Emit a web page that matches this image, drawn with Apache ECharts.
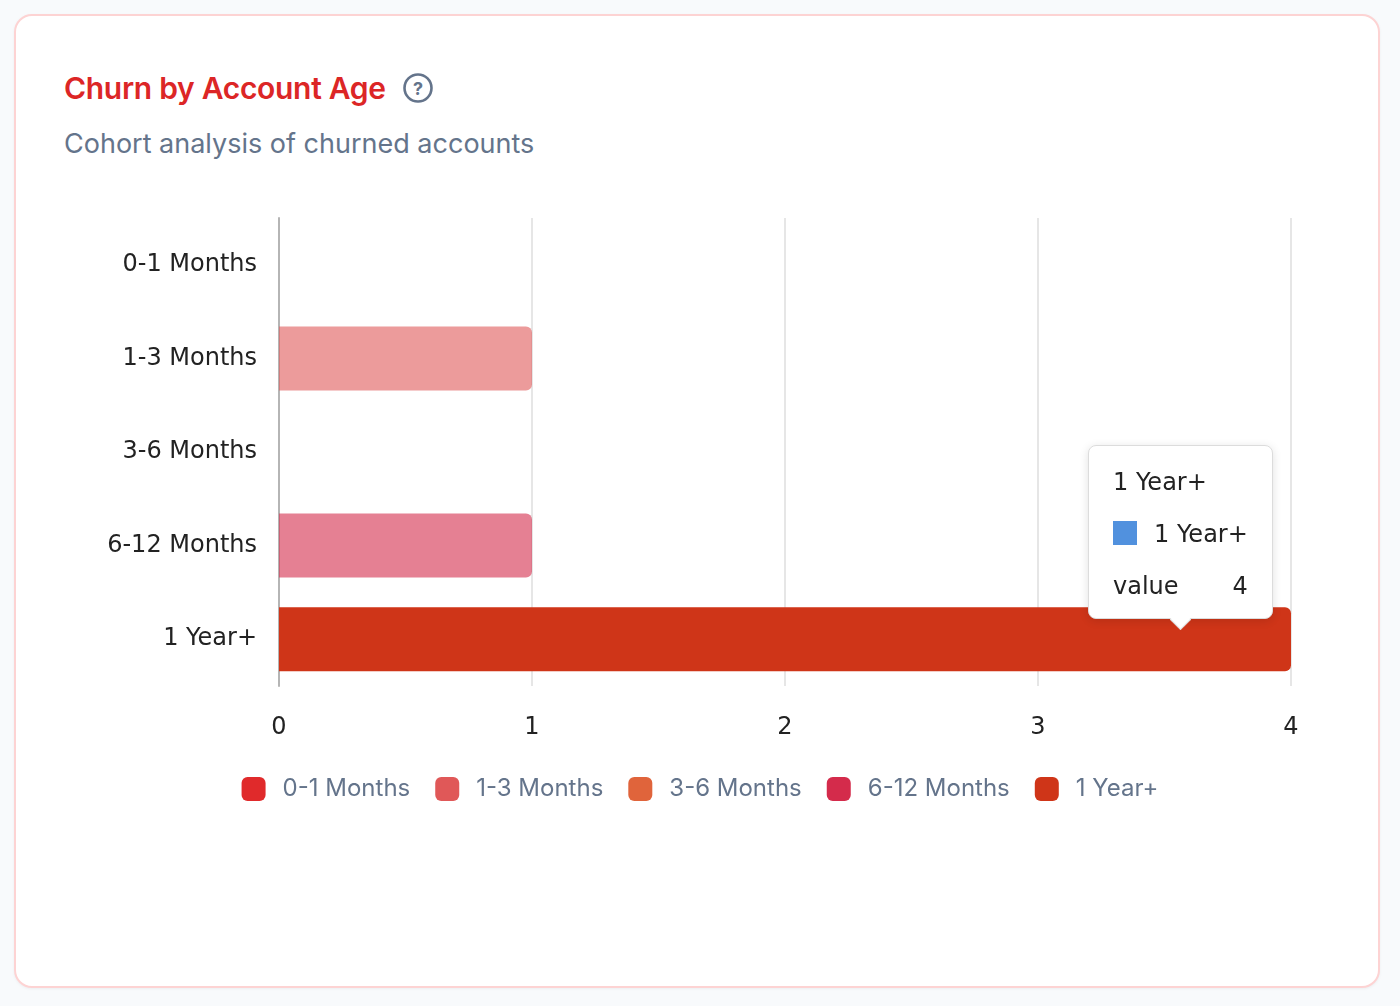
<!DOCTYPE html>
<html>
<head>
<meta charset="utf-8">
<script src="https://cdn.jsdelivr.net/npm/echarts@6/dist/echarts.min.js"></script>
<style>
  html, body { margin:0; padding:0; width:1400px; height:1006px; background:#f8fafc; overflow:hidden; }
  #card { position:absolute; left:14px; top:14px; width:1362px; height:970px; background:#fff;
          border:2px solid #fdd3d3; border-radius:18px; box-shadow:0 1px 3px rgba(0,0,0,0.05); }
  #title { position:absolute; left:64px; top:68px; font-family:Inter, "Noto Sans", sans-serif; font-weight:600;
           font-size:30px; color:#dc2626; letter-spacing:-0.3px; line-height:40px; white-space:nowrap; }
  #help { position:absolute; left:402px; top:72px; width:32px; height:32px; }
  #subtitle { position:absolute; left:64px; top:127px; font-family:Inter, "Noto Sans", sans-serif; font-size:27px;
              color:#64748b; line-height:34px; white-space:nowrap; }
  #chart { position:absolute; left:0; top:0; width:1400px; height:1006px; }
  .tip { position:relative; padding:10px 24px 6px 24px; font-family:'DejaVu Sans', sans-serif; font-size:24px; color:#222; }
  .tip .row { height:52px; line-height:52px; white-space:nowrap; }
  .tip .mk { display:inline-block; width:24px; height:24px; background:#5191de; margin-right:17px; vertical-align:-3px; }
  .tip .kv { display:flex; justify-content:space-between; }
  .tip .arrow { position:absolute; left:84px; bottom:-9px; width:14px; height:14px; background:#fff; transform:rotate(45deg);
                border-right:1px solid #dcdcdc; border-bottom:1px solid #dcdcdc; }
</style>
</head>
<body>
<div id="card"></div>
<div id="title">Churn by Account Age</div>
<svg id="help" viewBox="0 0 32 32">
  <circle cx="16" cy="16" r="13.5" fill="none" stroke="#64748b" stroke-width="2.6"/>
  <text x="16" y="22.5" text-anchor="middle" font-family="Inter, sans-serif" font-weight="700" font-size="18" fill="#64748b">?</text>
</svg>
<div id="subtitle">Cohort analysis of churned accounts</div>
<div id="chart"></div>
<script>
const categories = ['0-1 Months', '1-3 Months', '3-6 Months', '6-12 Months', '1 Year+'];
const churnValues = [0, 1, 0, 1, 4];
const xTicks = [0, 1, 2, 3, 4];
const seriesColors = ['#e02a2b', '#e05858', '#e0643b', '#d42b4b', '#cf3518'];
const highlightIndex = 4;

const chart = echarts.init(document.getElementById('chart'), null, { renderer: 'canvas' });

const series = categories.map((name, i) => ({
  name: name,
  type: 'bar',
  stack: 'total',
  barWidth: 64,
  color: seriesColors[i],
  itemStyle: { color: seriesColors[i], borderRadius: [0, 6, 6, 0] },
  data: categories.map((c, j) => j === i
    ? { value: churnValues[i], itemStyle: { opacity: i === highlightIndex ? 1 : 0.6 } }
    : '-')
}));

chart.setOption({
  animation: false,
  grid: { left: 279, right: 109, top: 218, bottom: 320, containLabel: false },
  legend: {
    top: 772,
    left: 'center',
    icon: 'roundRect',
    itemWidth: 24,
    itemHeight: 24,
    itemGap: 25,
    textStyle: { fontFamily: 'Inter, "Noto Sans", sans-serif', fontSize: 24, color: '#64748b', padding: [0, 0, 0, 12] },
    data: categories
  },
  tooltip: {
    trigger: 'item',
    triggerOn: 'none',
    alwaysShowContent: true,
    transitionDuration: 0,
    showDelay: 0,
    confine: false,
    padding: 0,
    backgroundColor: '#fff',
    borderColor: '#dcdcdc',
    borderWidth: 1,
    extraCssText: 'border-radius:8px; box-shadow:0 2px 10px rgba(0,0,0,0.12);',
    position: function () { return [1088, 445]; },
    formatter: function (p) {
      return '<div class="tip">' +
        '<div class="row">' + p.seriesName + '</div>' +
        '<div class="row"><span class="mk"></span>' + p.name + '</div>' +
        '<div class="row kv"><span>value</span><span>' + p.value + '</span></div>' +
        '<div class="arrow"></div>' +
        '</div>';
    }
  },
  xAxis: {
    type: 'value',
    min: 0,
    max: 4,
    interval: 1,
    axisLine: { show: false },
    axisTick: { show: false },
    splitLine: { lineStyle: { color: '#e6e6e6', width: 2 } },
    axisLabel: {
      margin: 30,
      fontFamily: '"DejaVu Sans", sans-serif',
      fontSize: 24,
      color: '#222',
      formatter: function (v) { return xTicks.indexOf(v) >= 0 ? String(v) : ''; }
    }
  },
  yAxis: {
    type: 'category',
    inverse: true,
    data: categories,
    axisLine: { show: true, lineStyle: { color: '#b5b5b5', width: 2 } },
    axisTick: { show: false },
    axisLabel: { margin: 22, fontFamily: '"DejaVu Sans", sans-serif', fontSize: 24, color: '#222' }
  },
  series: series
});

chart.dispatchAction({ type: 'showTip', seriesIndex: highlightIndex, dataIndex: highlightIndex });
</script>
</body>
</html>
